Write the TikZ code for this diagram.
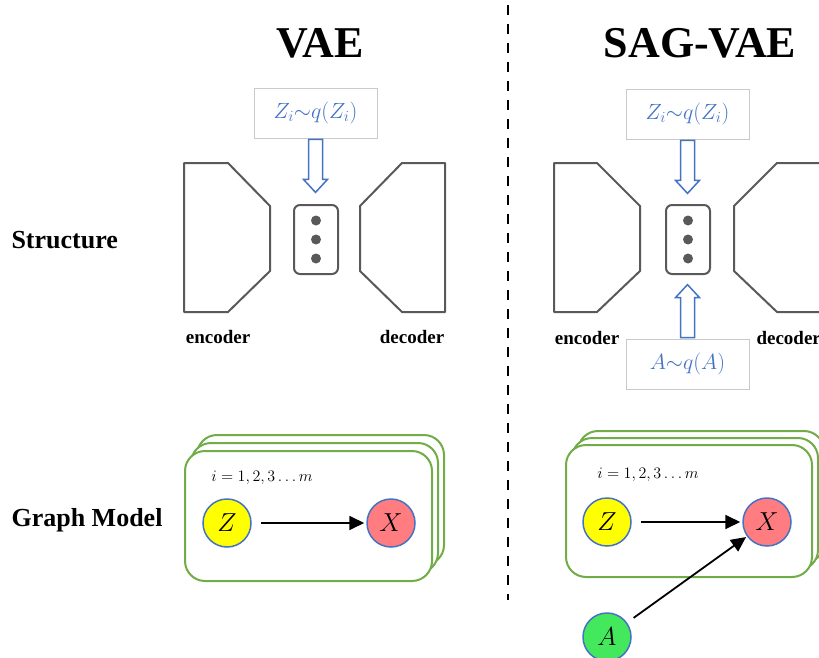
\documentclass[tikz,border=0pt]{standalone}
\usepackage{fix-cm}
\usepackage{fontspec}
\setmainfont{Liberation Serif}
\usetikzlibrary{arrows.meta,positioning,calc}

\definecolor{edgeblue}{HTML}{4472C4}
\definecolor{plategreen}{HTML}{70AD47}
\definecolor{shapegray}{HTML}{595959}
\definecolor{boxgray}{HTML}{CACACA}
\definecolor{zyellow}{HTML}{FFFF00}
\definecolor{xred}{HTML}{FF7C80}
\definecolor{agreen}{HTML}{43E85C}

\tikzset{
  title/.style={font=\fontsize{44}{48}\selectfont\bfseries},
  rowlabel/.style={font=\fontsize{26}{30}\selectfont\bfseries, anchor=west},
  partlabel/.style={font=\fontsize{19}{22}\selectfont\bfseries},
  distbox/.style={draw=boxgray, line width=0.8pt, text=edgeblue, minimum width=123pt, minimum height=50pt, font=\fontsize{22}{26}\selectfont},
  hollow/.style={draw=edgeblue, line width=1.5pt, fill=white},
  netshape/.style={draw=shapegray, line width=2pt, line join=round},
  latent/.style={draw=shapegray, line width=2pt, rounded corners=6pt, minimum width=44pt, minimum height=69pt},
  plate/.style={draw=plategreen, line width=2pt, fill=white, rounded corners=20pt},
  var/.style={circle, draw=edgeblue, line width=1.5pt, minimum size=48pt, inner sep=0pt, font=\fontsize{26}{28}\selectfont},
  edge/.style={-{Triangle[length=15pt,width=14pt]}, line width=1.8pt}
}

\begin{document}
\begin{tikzpicture}[x=1pt,y=-1pt]
  \useasboundingbox (0,0) rectangle (819,658);
  % titles and divider
  \node[title] (vae) at (320,43) {VAE};
  \node[title] (sagvae) at (700,43) {SAG-VAE};
  \coordinate (divtop) at (508,5);
  \coordinate (divbot) at (508,600);
  \draw[dashed, dash pattern=on 10pt off 9pt, line width=1.2pt] (divtop) -- (divbot);
  \node[rowlabel] (structure) at (8,240) {Structure};
  \node[rowlabel] (graphmodel) at (8,520) {Graph Model};

  % structure, VAE
  \draw[netshape] (184,163) -- (228,163) -- (270,206) -- (270,271) -- (228,312) -- (184,312) -- cycle;
  \draw[netshape] (445,163) -- (402,163) -- (360,206) -- (360,271) -- (402,312) -- (445,312) -- cycle;
  \node[latent] (mid1) at (316,239.5) {};
  \foreach \dy in {-19,0,19}{
    \fill[shapegray] ($(mid1.center)+(0,\dy)$) circle (5);
  }
  \node[distbox] (zq1) at (315.5,113) {$Z_i\mathord{\sim} q(Z_i)$};
  \draw[hollow] ($(zq1.south)+(-7,1)$) -- ++(0,40) -- ++(-5,0) -- ++(12,13) -- ++(12,-13) -- ++(-5,0) -- ++(0,-40) -- cycle;
  \node[partlabel] (enc1) at (218,337) {encoder};
  \node[partlabel] (dec1) at (412,337) {decoder};

  % structure, SAG-VAE
  \draw[netshape] (554,163) -- (597,163) -- (640,206) -- (640,271) -- (597,312) -- (554,312) -- cycle;
  \draw[netshape] (860,163) -- (777,163) -- (734,206) -- (734,271) -- (777,312) -- (860,312);
  \node[latent] (mid2) at (688,239.5) {};
  \foreach \dy in {-19,0,19}{
    \fill[shapegray] ($(mid2.center)+(0,\dy)$) circle (5);
  }
  \node[distbox] (zq2) at (687.5,114) {$Z_i\mathord{\sim} q(Z_i)$};
  \draw[hollow] ($(zq2.south)+(-7,1)$) -- ++(0,40) -- ++(-5,0) -- ++(12,13) -- ++(12,-13) -- ++(-5,0) -- ++(0,-40) -- cycle;
  \node[distbox] (aq) at (687.5,364) {$A\mathord{\sim} q(A)$};
  \draw[hollow] ($(aq.north)+(-7,-1)$) -- ++(0,-40) -- ++(-5,0) -- ++(12,-13) -- ++(12,13) -- ++(-5,0) -- ++(0,40) -- cycle;
  \node[partlabel] (enc2) at (587,338) {encoder};
  \node[partlabel, anchor=west] (dec2) at (753,338) {decoder};

  % graph model, VAE
  \foreach \o in {2,1,0}{
    \draw[plate] (185+6*\o,451-8*\o) rectangle ++(247,130);
  }
  \node[font=\fontsize{16}{19}\selectfont] (idx1) at (262,478) {$i = 1,2,3 \ldots m$};
  \node[var, fill=zyellow] (z1) at (227,523) {$Z$};
  \node[var, fill=xred] (x1) at (391,523) {$X$};
  \draw[edge, shorten <=9pt, shorten >=2pt] (z1) -- (x1);

  % graph model, SAG-VAE
  \foreach \o in {2,1,0}{
    \draw[plate] (566+6*\o,445-7*\o) rectangle ++(246,132);
  }
  \node[font=\fontsize{16}{19}\selectfont] (idx2) at (648,475) {$i = 1,2,3 \ldots m$};
  \node[var, fill=zyellow] (z2) at (607,522) {$Z$};
  \node[var, fill=xred] (x2) at (767,522) {$X$};
  \node[var, fill=agreen] (a2) at (607,637) {$A$};
  \draw[edge, shorten <=9pt, shorten >=2pt] (z2) -- (x2);
  \draw[edge, shorten <=8pt, shorten >=1pt] (a2) -- (x2);
\end{tikzpicture}
\end{document}
